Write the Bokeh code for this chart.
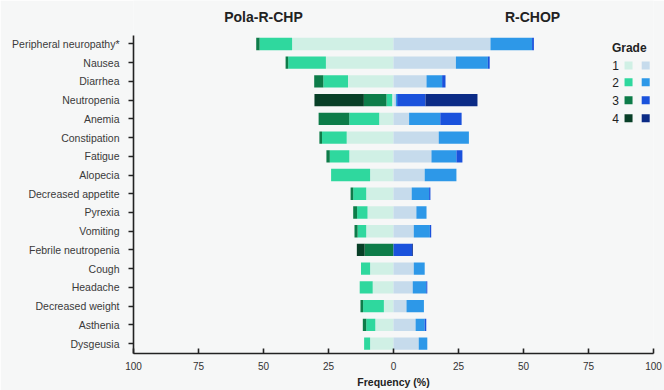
from bokeh.plotting import figure
from bokeh.models import ColumnDataSource, Range1d, FixedTicker
from bokeh.embed import file_html
from bokeh.resources import INLINE
from bokeh.core.properties import value

categories = ["Peripheral neuropathy*", "Nausea", "Diarrhea", "Neutropenia", "Anemia",
              "Constipation", "Fatigue", "Alopecia", "Decreased appetite", "Pyrexia",
              "Vomiting", "Febrile neutropenia", "Cough", "Headache", "Decreased weight",
              "Asthenia", "Dysgeusia"]

# Pola-R-CHP (left side), % by grade
pola_g1 = [39.0, 26.0, 17.5, 0.5, 5.5, 18.0, 17.0, 9.0, 10.5, 10.0, 10.5, 0.0, 9.0, 8.0, 3.7, 7.0, 9.0]
pola_g2 = [12.5, 14.5, 9.5, 2.2, 11.5, 9.5, 7.5, 15.0, 5.0, 4.0, 3.3, 0.0, 3.5, 5.0, 8.0, 3.5, 2.3]
pola_g3 = [1.3, 1.0, 3.5, 8.7, 11.8, 1.0, 1.3, 0.0, 1.0, 1.5, 1.2, 11.1, 0.0, 0.0, 1.0, 1.3, 0.0]
pola_g4 = [0.0, 0.0, 0.0, 19.0, 0.0, 0.0, 0.0, 0.0, 0.0, 0.0, 0.0, 3.0, 0.0, 0.0, 0.0, 0.0, 0.0]

# R-CHOP (right side), % by grade
rchop_g1 = [37.3, 24.0, 12.7, 0.9, 6.0, 17.4, 14.6, 12.0, 7.0, 8.8, 7.8, 0.0, 7.8, 7.4, 5.0, 8.5, 9.7]
rchop_g2 = [16.0, 12.3, 6.0, 0.5, 12.0, 11.6, 9.6, 12.2, 6.7, 3.9, 6.2, 0.0, 4.2, 5.2, 6.7, 3.5, 3.3]
rchop_g3 = [0.7, 0.7, 1.3, 10.9, 8.2, 0.0, 2.3, 0.0, 0.5, 0.0, 0.5, 7.2, 0.0, 0.4, 0.0, 0.6, 0.0]
rchop_g4 = [0.0, 0.0, 0.0, 20.0, 0.0, 0.0, 0.0, 0.0, 0.0, 0.0, 0.0, 0.3, 0.0, 0.0, 0.0, 0.0, 0.0]

x_ticks = [-100, -75, -50, -25, 0, 25, 50, 75, 100]
x_tick_labels = ["100", "75", "50", "25", "0", "25", "50", "75", "100"]
grades = ["1", "2", "3", "4"]
arm_titles = ["Pola-R-CHP", "R-CHOP"]

green = ["#d0f0e5", "#2fd89e", "#0d7c49", "#083f27"]
blue = ["#c6dbec", "#2d98e8", "#1a52dc", "#0b2b86"]

FONT = "Liberation Sans"
BG = "#f6f7f7"

n = len(categories)
ypos = [n - 1 - i for i in range(n)]
y_lo, y_hi = -0.53, n - 1 + 0.45      # extent of the category axis
y_top = n - 1 + 2.32                  # room above the axis for the arm titles

data = {"y": ypos}
for k, arr in enumerate([pola_g1, pola_g2, pola_g3, pola_g4]):
    data[f"p{k+1}"] = [-v for v in arr]
for k, arr in enumerate([rchop_g1, rchop_g2, rchop_g3, rchop_g4]):
    data[f"r{k+1}"] = arr
src = ColumnDataSource(data)

p = figure(width=664, height=390, output_backend="svg", toolbar_location=None,
           x_range=Range1d(-100, 100), y_range=Range1d(y_lo, y_top),
           min_border_left=133, min_border_right=11, min_border_top=0, min_border_bottom=36,
           background_fill_color=BG, border_fill_color=BG)
p.outline_line_color = None
p.grid.visible = False

p.hbar_stack(["p1", "p2", "p3", "p4"], y="y", height=0.66, color=green, source=src, line_width=0)
p.hbar_stack(["r1", "r2", "r3", "r4"], y="y", height=0.66, color=blue, source=src, line_width=0)

# axes
xa = p.xaxis[0]
xa.ticker = FixedTicker(ticks=x_ticks)
xa.major_label_overrides = {t: l for t, l in zip(x_ticks, x_tick_labels)}
xa.minor_tick_line_color = None
xa.major_tick_in = 5
xa.major_tick_out = 0
xa.axis_line_width = 1.6
xa.major_tick_line_width = 1.6
xa.axis_line_color = "#222222"
xa.major_tick_line_color = "#222222"
xa.major_label_text_font = FONT
xa.major_label_text_font_size = "10px"
xa.major_label_text_color = "#333333"
xa.major_label_standoff = 8
xa.axis_label = "Frequency (%)"
xa.axis_label_text_font = FONT
xa.axis_label_text_font_size = "10.5px"
xa.axis_label_text_font_style = "bold"
xa.axis_label_text_color = "#222222"
xa.axis_label_standoff = 3

ya = p.yaxis[0]
ya.bounds = (y_lo, y_hi)
ya.ticker = FixedTicker(ticks=ypos)
ya.major_label_overrides = {y: c for y, c in zip(ypos, categories)}
ya.minor_tick_line_color = None
ya.major_tick_in = 0
ya.major_tick_out = 5
ya.axis_line_width = 1.6
ya.major_tick_line_width = 1.6
ya.axis_line_color = "#222222"
ya.major_tick_line_color = "#222222"
ya.major_label_text_font = FONT
ya.major_label_text_font_size = "10.5px"
ya.major_label_text_color = "#3a3a3a"
ya.major_label_standoff = 9

# arm titles above the bars
p.text(x=[-50, 53.5], y=[n - 1 + 1.46] * 2, text=arm_titles, text_align="center",
       text_baseline="middle", text_font=value(FONT), text_font_size="14px",
       text_font_style="bold", text_color="#222222")

# grade legend (layout positions in data units)
lx_text = 84.0
lx_num = 85.4
lx_g = 90.4
lx_b = 97.0
ly_title = 15.76
ly_rows = [14.85, 13.95, 12.99, 12.03]
p.text(x=[lx_text], y=[ly_title], text=["Grade"], text_font=value(FONT), text_font_size="12px",
       text_font_style="bold", text_baseline="middle", text_align="left", text_color="#222222")
p.text(x=[lx_num] * 4, y=ly_rows, text=grades, text_font=value(FONT), text_font_size="12px",
       text_baseline="middle", text_align="center", text_color="#222222")
p.scatter(x=[lx_g] * 4, y=ly_rows, marker="square", size=8, color=green, line_width=0)
p.scatter(x=[lx_b] * 4, y=ly_rows, marker="square", size=8, color=blue, line_width=0)

open("out.html", "w").write(file_html(p, INLINE))
